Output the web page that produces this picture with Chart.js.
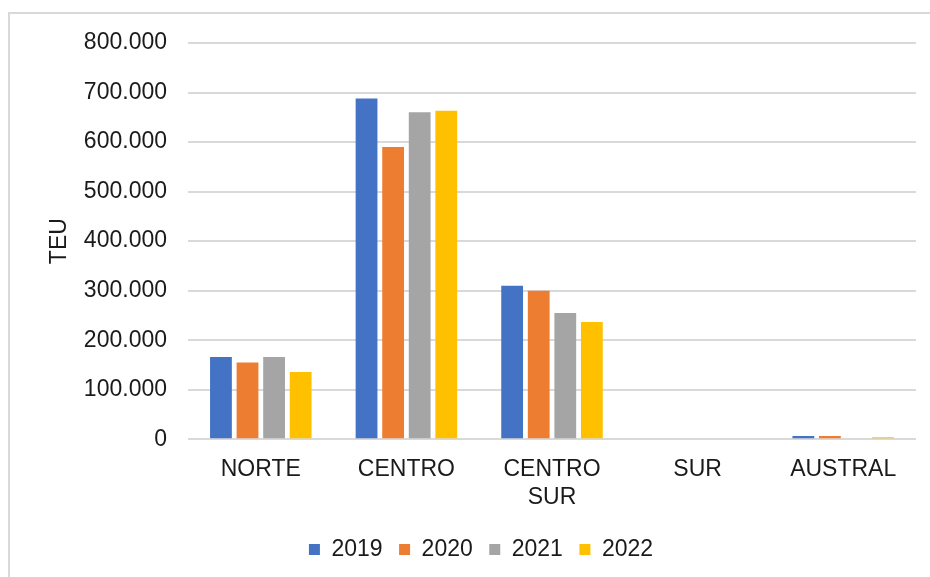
<!DOCTYPE html>
<html lang="es">
<head>
  <meta charset="UTF-8">
  <title>TEU por zona</title>
  <style>
    html, body { margin: 0; padding: 0; background: #fff; }
    .frame {
      position: absolute;
      left: 8px;
      top: 12px;
      width: 922px;
      height: 565px;
      border-left: 2px solid #d9d9d9;
      border-top: 2px solid #d9d9d9;
    }
    .frame canvas { display: block; }
  </style>
</head>
<body>
  <div class="frame">
    <canvas id="teuChart" width="920" height="563"></canvas>
  </div>

  <script src="https://cdn.jsdelivr.net/npm/chart.js"></script>
  <script>
    // zonas y valores (TEU)
    const zonas = ['NORTE', 'CENTRO', ['CENTRO', 'SUR'], 'SUR', 'AUSTRAL'];
    const anios = ['2019', '2020', '2021', '2022'];
    const teu2019 = [166000, 688000, 310000, 0, 6500];
    const teu2020 = [155000, 590000, 300000, 0, 6500];
    const teu2021 = [166000, 660000, 255000, 0, 0];
    const teu2022 = [136000, 663000, 237000, 0, 4000];
    const yTicks = [0, 100000, 200000, 300000, 400000, 500000, 600000, 700000, 800000];

    const colores = ['#4472C4', '#ED7D31', '#A5A5A5', '#FFC000'];
    const series = [teu2019, teu2020, teu2021, teu2022];

    const fuente = { family: '"Liberation Sans", Arial, sans-serif', size: 23 };
    const textoColor = '#1a1a1a';

    const miles = v => String(v).replace(/\B(?=(\d{3})+(?!\d))/g, '.');

    const config = {
      type: 'bar',
      data: {
        labels: zonas,
        datasets: series.map((s, i) => ({
          label: anios[i],
          data: s,
          backgroundColor: colores[i],
          borderWidth: 0,
          categoryPercentage: 0.73,
          barPercentage: 0.82
        }))
      },
      options: {
        responsive: false,
        animation: false,
        layout: { padding: { left: 36, right: 14, top: 29, bottom: 6 } },
        plugins: {
          legend: {
            position: 'bottom',
            labels: {
              font: fuente,
              color: textoColor,
              boxWidth: 11,
              boxHeight: 11,
              padding: 16.5
            }
          },
          tooltip: { enabled: false }
        },
        scales: {
          x: {
            grid: { display: false },
            border: { display: false },
            ticks: { font: fuente, color: textoColor, padding: 9, maxRotation: 0 },
            afterFit: s => { s.height += 1; }
          },
          y: {
            min: 0,
            max: 800000,
            afterBuildTicks: s => { s.ticks = yTicks.map(v => ({ value: v })); },
            afterFit: s => {
              s.width = 142;
              s.paddingTop = 0;
              s.paddingBottom = 0;
            },
            grid: { color: '#d9d9d9', lineWidth: 2, drawTicks: false },
            border: { display: false },
            ticks: { font: fuente, color: textoColor, padding: 21, callback: v => miles(v) },
            title: {
              display: true,
              text: 'TEU',
              font: fuente,
              color: textoColor,
              padding: { top: 0, bottom: 0 }
            }
          }
        }
      }
    };

    new Chart(document.getElementById('teuChart'), config);
  </script>
</body>
</html>
